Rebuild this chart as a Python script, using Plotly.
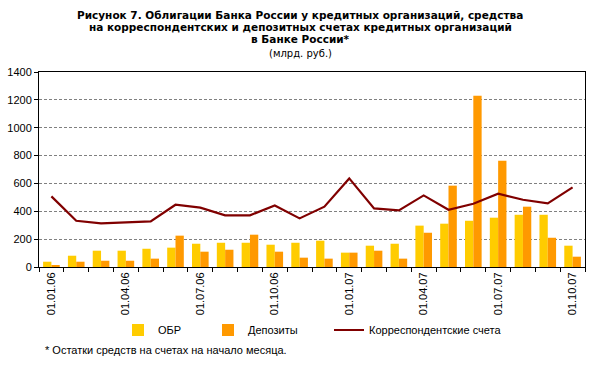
import plotly.graph_objects as go

dates = ["01.01.06", "01.02.06", "01.03.06", "01.04.06", "01.05.06", "01.06.06",
         "01.07.06", "01.08.06", "01.09.06", "01.10.06", "01.11.06", "01.12.06",
         "01.01.07", "01.02.07", "01.03.07", "01.04.07", "01.05.07", "01.06.07",
         "01.07.07", "01.08.07", "01.09.07", "01.10.07"]
obr = [38, 81, 117, 117, 131, 139, 167, 174, 174, 160, 174, 189,
       103, 153, 167, 297, 311, 332, 354, 375, 375, 153]
dep = [10, 38, 45, 45, 60, 225, 110, 124, 232, 110, 67, 60,
       103, 117, 60, 246, 584, 1230, 763, 433, 210, 74]
corr = [507, 332, 313, 320, 327, 447, 426, 371, 371, 442, 349, 433,
        636, 421, 406, 514, 411, 454, 526, 483, 457, 572]
tick_labels = [d if i % 3 == 0 else "" for i, d in enumerate(dates)]
y_ticks = [0, 200, 400, 600, 800, 1000, 1200, 1400]

FONT = "Liberation Sans, Arial, sans-serif"
TFONT = "DejaVu Sans, Verdana, sans-serif"

L, R, T, B = 39, 16, 72, 108
W, H = 601, 375
PW, PH = W - L - R, H - T - B


def px(x):
    return (x - L) / PW


def py(y):
    return (H - B - y) / PH


fig = go.Figure()
fig.add_trace(go.Bar(x=dates, y=obr, name="ОБР", legend="legend",
                     marker=dict(color="#FFCC00", line=dict(width=0))))
fig.add_trace(go.Bar(x=dates, y=dep, name="Депозиты", legend="legend2",
                     marker=dict(color="#FF9900", line=dict(width=0))))
fig.add_trace(go.Scatter(x=dates, y=corr, name="Корреспондентские счета", mode="lines",
                         legend="legend3", line=dict(color="#800000", width=2.2)))


def leg(xpix):
    return dict(orientation="h", x=px(xpix), y=py(330), xanchor="left", yanchor="middle",
                font=dict(size=11, family=FONT), itemwidth=30,
                bgcolor="rgba(0,0,0,0)")


fig.update_layout(
    width=W, height=H,
    margin=dict(l=L, r=R, t=T, b=B, autoexpand=False),
    paper_bgcolor="white", plot_bgcolor="white",
    font=dict(family=FONT, size=11, color="black"),
    barmode="group", bargap=0.33, bargroupgap=0,
    showlegend=True,
    legend=leg(118), legend2=leg(208), legend3=leg(329),
)
fig.update_xaxes(
    type="category", tickmode="array", tickvals=dates, ticktext=tick_labels,
    tickangle=-90, tickson="boundaries", ticks="outside", ticklen=4, tickcolor="black",
    showline=True, linecolor="black", linewidth=1, mirror=True, showgrid=False,
    tickfont=dict(size=11), automargin=False,
)
fig.update_yaxes(
    range=[0, 1400], tickmode="array", tickvals=y_ticks,
    ticks="outside", ticklen=4, tickcolor="black",
    showline=True, linecolor="black", linewidth=1, mirror=True,
    showgrid=True, gridcolor="#808080", gridwidth=1, griddash="3px,2px",
    zeroline=False, tickfont=dict(size=11), automargin=False,
)

title_lines = [
    "Рисунок 7. Облигации Банка России у кредитных организаций, средства",
    "на корреспондентских и депозитных счетах кредитных организаций",
    "в Банке России*",
]
ys = [15, 27.5, 39.5]
for t, yy in zip(title_lines, ys):
    fig.add_annotation(text="<b>" + t + "</b>", xref="paper", yref="paper",
                       x=px(300), y=py(yy), xanchor="center", yanchor="middle",
                       showarrow=False, font=dict(size=10.5, family=TFONT))
fig.add_annotation(text="(млрд. руб.)", xref="paper", yref="paper",
                   x=px(300), y=py(53.5), xanchor="center", yanchor="middle",
                   showarrow=False, font=dict(size=10, family=TFONT))
fig.add_annotation(text="* Остатки средств на счетах на начало месяца.", xref="paper", yref="paper",
                   x=px(43), y=py(350), xanchor="left", yanchor="middle",
                   showarrow=False, font=dict(size=11, family=FONT))

fig.write_html("out.html", config={"displayModeBar": False},
               post_script="document.body.style.margin='0';document.body.style.padding='0';")
